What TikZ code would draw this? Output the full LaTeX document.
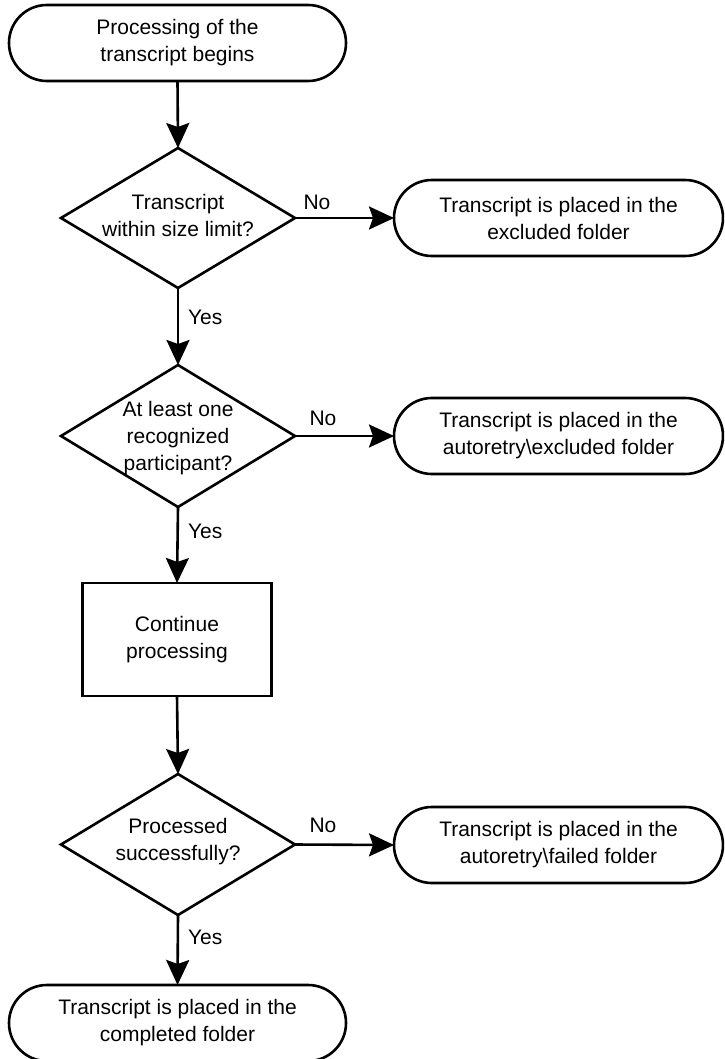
\documentclass[tikz,border=0pt]{standalone}
\usepackage{fontspec}
\setmainfont{Liberation Sans}
\usetikzlibrary{arrows.meta,shapes.geometric}
\begin{document}
\begin{tikzpicture}[x=1pt,y=-1pt,
  every node/.style={font=\fontsize{21pt}{27pt}\selectfont, inner sep=0pt, outer sep=0pt},
  lw/.style={line width=2.6pt},
  term/.style={draw, lw, fill=white, rounded corners=37.9pt, minimum height=76pt, align=center},
  decision/.style={draw, lw, diamond, minimum width=234pt, minimum height=140pt},
  procbox/.style={draw, lw, rectangle, minimum width=189pt, minimum height=113pt, align=center},
  txt/.style={align=center},
  arr/.style={draw, lw, -{Stealth[length=25pt,width=23pt,inset=4pt]}},
  lbl/.style={anchor=base}
]
\path[use as bounding box, clip] (0,0) rectangle (724,1059);
\fill[white] (0,0) rectangle (724,1059);

% terminals
\node[term, minimum width=337pt] (start) at (177.5,43) {Processing of the\\transcript begins};
\node[term, minimum width=329pt] (e1) at (558.5,218) {Transcript is placed in the\\excluded folder};
\node[term, minimum width=329pt] (e2) at (558.5,436) {Transcript is placed in the\\autoretry\textbackslash excluded folder};
\node[term, minimum width=329pt] (e3) at (558.5,845) {Transcript is placed in the\\autoretry\textbackslash failed folder};
\node[term, minimum width=337pt] (finish) at (177.5,1023) {Transcript is placed in the\\completed folder};

% decisions
\node[decision] (d1) at (178,218) {};
\node[txt] (d1t) at (178,215) {Transcript\\within size limit?};
\node[decision, minimum height=142pt] (d2) at (178,436) {};
\node[txt] (d2t) at (178,438) {At least one\\recognized\\participant?};
\node[decision, minimum height=141pt] (d3) at (178,844.5) {};
\node[txt] (d3t) at (178,842) {Processed\\successfully?};

% process
\node[procbox] (cont) at (177,639.5) {Continue\\processing};

% connectors
\draw[arr] (start.south) -- (d1.north);
\draw[arr] (d1.east) -- (e1.west);
\draw[arr] (d1.south) -- (d2.north);
\draw[arr] (d2.east) -- (e2.west);
\draw[arr] (d2.south) -- (cont.north);
\draw[arr] (cont.south) -- (d3.north);
\draw[arr] (d3.east) -- (e3.west);
\draw[arr] (d3.south) -- (finish.north);

% labels
\node[lbl] (no1) at (317,209.5) {No};
\node[lbl] (no2) at (323,425) {No};
\node[lbl] (no3) at (323,832.5) {No};
\node[lbl, anchor=base west] (yes1) at (188,324.5) {Yes};
\node[lbl, anchor=base west] (yes2) at (188,538.5) {Yes};
\node[lbl, anchor=base west] (yes3) at (188,944.5) {Yes};
\end{tikzpicture}
\end{document}
